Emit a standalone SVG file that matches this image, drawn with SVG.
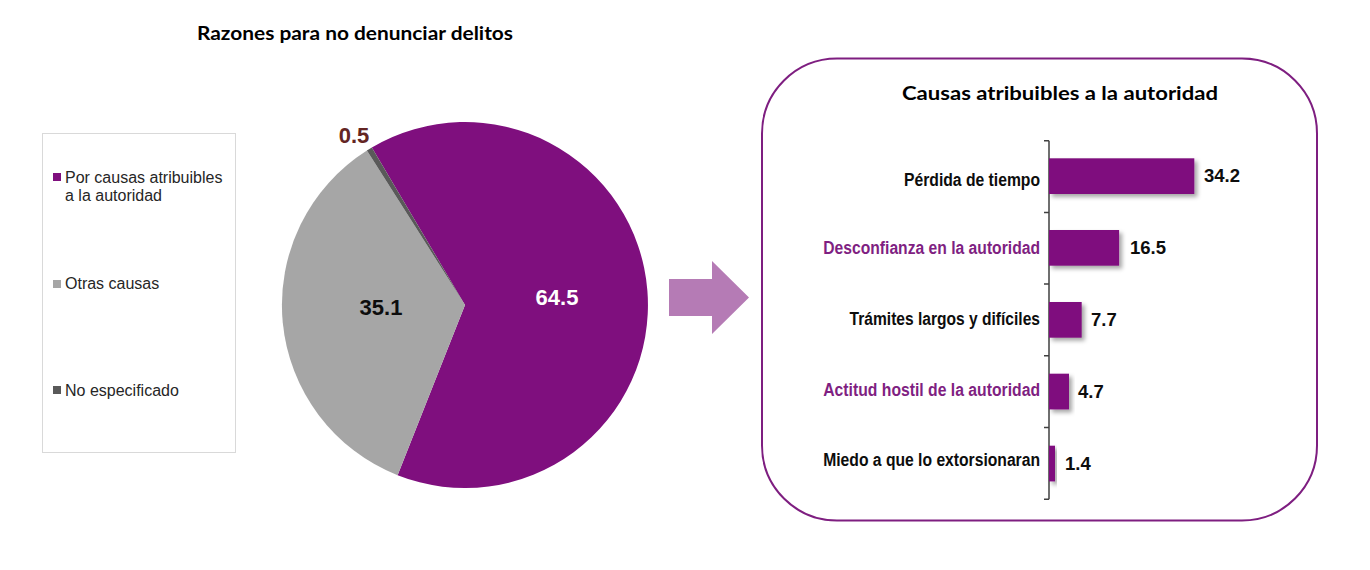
<svg xmlns="http://www.w3.org/2000/svg" width="1370" height="570" viewBox="0 0 1370 570">
<style>
  .title{font-family:Lato,"Liberation Sans",Arial,sans-serif;font-weight:bold;font-size:19px;fill:#000}
  .leg{font-family:"Liberation Sans",Arial,sans-serif;font-size:16px;fill:#262626}
  .val{font-family:"Liberation Sans",Arial,sans-serif;font-weight:bold;font-size:18.5px;fill:#0d0d0d}
  .pval{font-family:"Liberation Sans",Arial,sans-serif;font-weight:bold;font-size:22px;text-anchor:middle}
  .cat{font-family:"Liberation Sans",Arial,sans-serif;font-weight:bold;font-size:19px;text-anchor:end}
  .catk{fill:#0d0d0d}
  .catp{fill:#7f1f82}
  .bar{fill:#7f0f7e;filter:url(#sh)}
  .axis{stroke:#404040;stroke-width:1.5;fill:none}
</style>
<defs>
  <filter id="sh" x="-20%" y="-30%" width="150%" height="170%">
    <feDropShadow dx="3" dy="3" stdDeviation="2" flood-color="#000" flood-opacity="0.35"/>
  </filter>
</defs>
<rect width="1370" height="570" fill="#fff"/>

<text class="title" x="355" y="40" text-anchor="middle" textLength="316" lengthAdjust="spacingAndGlyphs">Razones para no denunciar delitos</text>

<g id="legend">
  <rect x="42.5" y="133.5" width="193" height="319" fill="#fff" stroke="#d9d9d9" stroke-width="1"/>
  <rect x="53" y="173" width="8" height="8" fill="#7f0f7e"/>
  <text class="leg" x="65" y="183">Por causas atribuibles</text>
  <text class="leg" x="65" y="201">a la autoridad</text>
  <rect x="53" y="280" width="8" height="8" fill="#a6a6a6"/>
  <text class="leg" x="65" y="289">Otras causas</text>
  <rect x="53" y="386" width="8" height="8" fill="#595959"/>
  <text class="leg" x="65" y="396">No especificado</text>
</g>

<g id="pie">
  <path d="M465,305 L371.85,147.5 A183,183 0 1,1 397.6,475.2 Z" fill="#7f0f7e"/>
  <path d="M465,305 L397.6,475.2 A183,183 0 0,1 366.9,150.5 Z" fill="#a6a6a6"/>
  <path d="M465,305 L366.9,150.5 A183,183 0 0,1 371.85,147.5 Z" fill="#595959"/>
  <text class="pval" x="557" y="305" fill="#fff">64.5</text>
  <text class="pval" x="381" y="315" fill="#0d0d0d">35.1</text>
  <text class="pval" x="354" y="143" fill="#632523">0.5</text>
</g>

<g id="connectors">
  <polygon id="arrow" points="669,279 712,279 712,261 749,297.5 712,334 712,316 669,316" fill="#b57bb5"/>
</g>

<g id="panel">
  <rect x="762" y="58.5" width="555" height="462" rx="75" ry="75" fill="#fff" stroke="#7e1e80" stroke-width="2"/>
  <text class="title" x="1060" y="100" text-anchor="middle" textLength="316" lengthAdjust="spacingAndGlyphs">Causas atribuibles a la autoridad</text>
  <path class="axis" d="M1049,140.7 V499.3 M1044,140.7 H1049 M1044,212.4 H1049 M1044,284.1 H1049 M1044,355.8 H1049 M1044,427.5 H1049 M1044,499.3 H1049"/>
  <g id="bar1">
    <rect class="bar" x="1049" y="158.3" width="145.3" height="35.7"/>
    <text class="cat catk" transform="translate(1040 186) scale(0.8 1)" x="0" y="0" textLength="170" lengthAdjust="spacingAndGlyphs">Pérdida de tiempo</text>
    <text class="val" x="1204" y="182">34.2</text>
  </g>
  <g id="bar2">
    <rect class="bar" x="1049" y="230" width="70.1" height="35.7"/>
    <text class="cat catp" transform="translate(1040 253.5) scale(0.8 1)" x="0" y="0" textLength="271" lengthAdjust="spacingAndGlyphs">Desconfianza en la autoridad</text>
    <text class="val" x="1130" y="254">16.5</text>
  </g>
  <g id="bar3">
    <rect class="bar" x="1049" y="302" width="32.7" height="35.7"/>
    <text class="cat catk" transform="translate(1040 324.5) scale(0.8 1)" x="0" y="0" textLength="238" lengthAdjust="spacingAndGlyphs">Trámites largos y difíciles</text>
    <text class="val" x="1091" y="326">7.7</text>
  </g>
  <g id="bar4">
    <rect class="bar" x="1049" y="373.7" width="20" height="35.7"/>
    <text class="cat catp" transform="translate(1040 395.5) scale(0.8 1)" x="0" y="0" textLength="271" lengthAdjust="spacingAndGlyphs">Actitud hostil de la autoridad</text>
    <text class="val" x="1078" y="398">4.7</text>
  </g>
  <g id="bar5">
    <rect class="bar" x="1049" y="445.7" width="6" height="35.7"/>
    <text class="cat catk" transform="translate(1040 466) scale(0.8 1)" x="0" y="0" textLength="271" lengthAdjust="spacingAndGlyphs">Miedo a que lo extorsionaran</text>
    <text class="val" x="1065" y="470">1.4</text>
  </g>
</g>
</svg>
